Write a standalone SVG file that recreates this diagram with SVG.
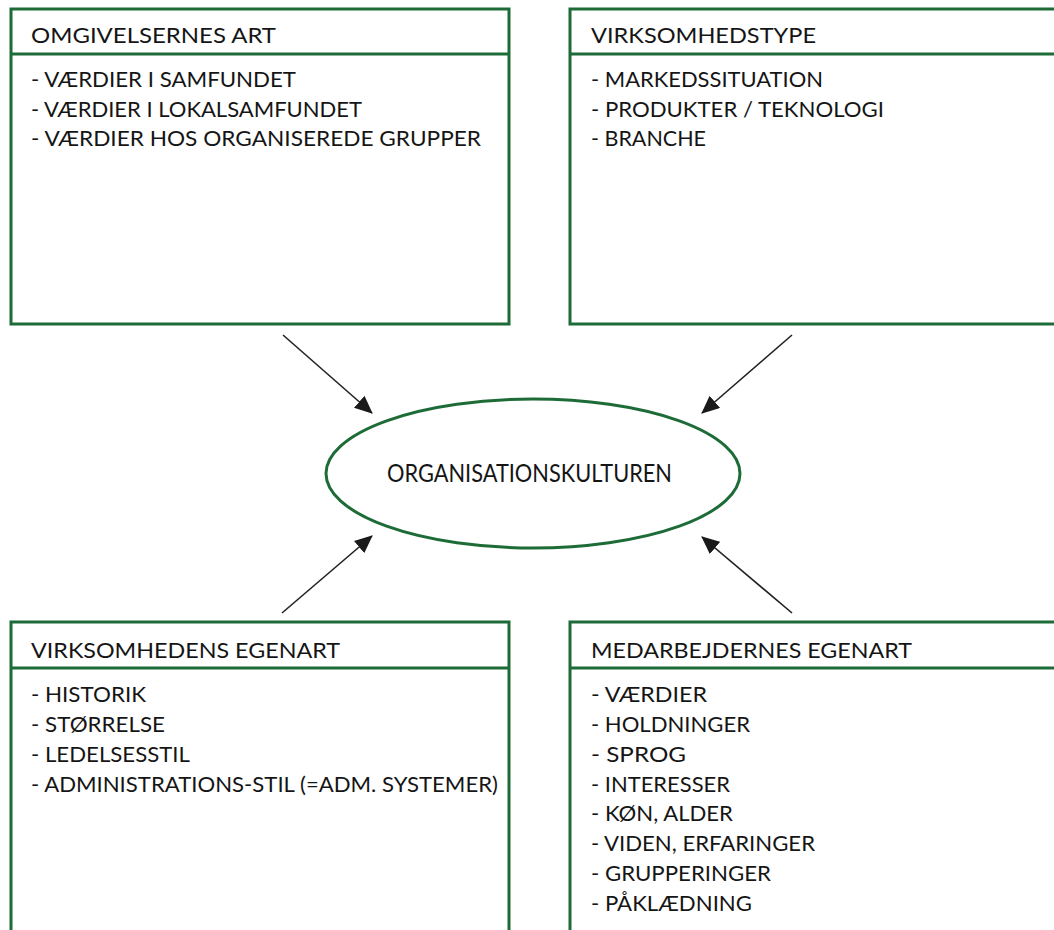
<svg xmlns="http://www.w3.org/2000/svg" width="1054" height="930" viewBox="0 0 1054 930">
  <style>
    .box { fill: #ffffff; stroke: #1d6b37; stroke-width: 3; }
    .div { stroke: #1d6b37; stroke-width: 3; }
    .hd { font-family: Lato, "Liberation Sans", sans-serif; font-size: 21px; font-weight: 400; fill: #151515; }
    .it { font-family: Lato, "Liberation Sans", sans-serif; font-size: 21px; font-weight: 400; fill: #151515; }
    .ct { font-family: Lato, "Liberation Sans", sans-serif; font-size: 25px; font-weight: 400; fill: #151515; }
    .conn { stroke: #222222; stroke-width: 1.6; fill: none; }
  </style>
  <defs>
    <marker id="ah" viewBox="0 0 18 16" refX="17" refY="8" markerWidth="18" markerHeight="16" markerUnits="userSpaceOnUse" orient="auto">
      <path d="M0,0 L18,8 L0,16 z" fill="#1a1a1a"/>
    </marker>
  </defs>
  <rect width="1054" height="930" fill="#ffffff"/>

  <g id="omgivelsernes-art">
    <rect class="box" x="11" y="9" width="498" height="315"/>
    <line class="div" x1="11" y1="54" x2="509" y2="54"/>
    <text class="hd" x="31" y="43" textLength="245" lengthAdjust="spacingAndGlyphs">OMGIVELSERNES ART</text>
    <text class="it" x="31" y="87" textLength="265" lengthAdjust="spacingAndGlyphs">- VÆRDIER I SAMFUNDET</text>
    <text class="it" x="31" y="117" textLength="331" lengthAdjust="spacingAndGlyphs">- VÆRDIER I LOKALSAMFUNDET</text>
    <text class="it" x="31" y="146" textLength="450" lengthAdjust="spacingAndGlyphs">- VÆRDIER HOS ORGANISEREDE GRUPPER</text>
  </g>

  <g id="virksomhedstype">
    <rect class="box" x="570" y="9" width="500" height="315"/>
    <line class="div" x1="570" y1="54" x2="1070" y2="54"/>
    <text class="hd" x="591" y="43" textLength="225" lengthAdjust="spacingAndGlyphs">VIRKSOMHEDSTYPE</text>
    <text class="it" x="591" y="87" textLength="232" lengthAdjust="spacingAndGlyphs">- MARKEDSSITUATION</text>
    <text class="it" x="591" y="117" textLength="293" lengthAdjust="spacingAndGlyphs">- PRODUKTER / TEKNOLOGI</text>
    <text class="it" x="591" y="146" textLength="115" lengthAdjust="spacingAndGlyphs">- BRANCHE</text>
  </g>

  <g id="organisationskulturen">
    <ellipse cx="533" cy="473.5" rx="207" ry="74.5" fill="#ffffff" stroke="#1d6b37" stroke-width="3"/>
    <text class="ct" x="387" y="482" textLength="285" lengthAdjust="spacingAndGlyphs">ORGANISATIONSKULTUREN</text>
  </g>

  <g id="virksomhedens-egenart">
    <rect class="box" x="11" y="622" width="498" height="320"/>
    <line class="div" x1="11" y1="668" x2="509" y2="668"/>
    <text class="hd" x="31" y="658" textLength="309" lengthAdjust="spacingAndGlyphs">VIRKSOMHEDENS EGENART</text>
    <text class="it" x="31" y="702" textLength="115" lengthAdjust="spacingAndGlyphs">- HISTORIK</text>
    <text class="it" x="31" y="732" textLength="134" lengthAdjust="spacingAndGlyphs">- STØRRELSE</text>
    <text class="it" x="31" y="762" textLength="159" lengthAdjust="spacingAndGlyphs">- LEDELSESSTIL</text>
    <text class="it" x="31" y="792" textLength="467" lengthAdjust="spacingAndGlyphs">- ADMINISTRATIONS-STIL (=ADM. SYSTEMER)</text>
  </g>

  <g id="medarbejdernes-egenart">
    <rect class="box" x="570" y="622" width="500" height="320"/>
    <line class="div" x1="570" y1="668" x2="1070" y2="668"/>
    <text class="hd" x="591" y="658" textLength="321" lengthAdjust="spacingAndGlyphs">MEDARBEJDERNES EGENART</text>
    <text class="it" x="591" y="702" textLength="116" lengthAdjust="spacingAndGlyphs">- VÆRDIER</text>
    <text class="it" x="591" y="732" textLength="159" lengthAdjust="spacingAndGlyphs">- HOLDNINGER</text>
    <text class="it" x="591" y="762" textLength="95" lengthAdjust="spacingAndGlyphs">- SPROG</text>
    <text class="it" x="591" y="792" textLength="139" lengthAdjust="spacingAndGlyphs">- INTERESSER</text>
    <text class="it" x="591" y="821" textLength="142" lengthAdjust="spacingAndGlyphs">- KØN, ALDER</text>
    <text class="it" x="591" y="851" textLength="224" lengthAdjust="spacingAndGlyphs">- VIDEN, ERFARINGER</text>
    <text class="it" x="591" y="881" textLength="180" lengthAdjust="spacingAndGlyphs">- GRUPPERINGER</text>
    <text class="it" x="591" y="911" textLength="161" lengthAdjust="spacingAndGlyphs">- PÅKLÆDNING</text>
  </g>

  <g id="connectors">
    <line class="conn" x1="283" y1="335" x2="372" y2="413" marker-end="url(#ah)"/>
    <line class="conn" x1="792" y1="335" x2="702" y2="413" marker-end="url(#ah)"/>
    <line class="conn" x1="282" y1="613" x2="372" y2="536" marker-end="url(#ah)"/>
    <line class="conn" x1="792" y1="613" x2="702" y2="537" marker-end="url(#ah)"/>
  </g>
</svg>
